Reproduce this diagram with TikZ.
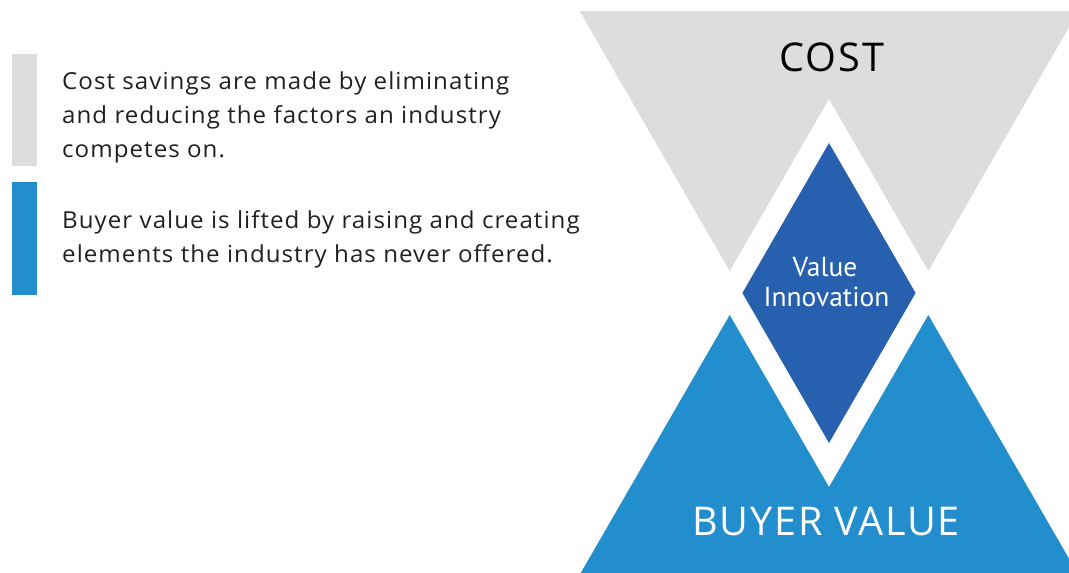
\documentclass[tikz,border=0pt]{standalone}
\usepackage{fontspec}
\setmainfont[LetterSpace=4.5,FakeStretch=1.03]{Open Sans}
\newfontfamily\labelfont{PT Sans}
\newfontfamily\bigfont[LetterSpace=4.5]{Open Sans}
\definecolor{costgray}{HTML}{DCDDDF}
\definecolor{valblue}{HTML}{238ECD}
\definecolor{innoblue}{HTML}{2760AE}
\definecolor{txtdark}{HTML}{231F20}
\begin{document}
\begin{tikzpicture}[x=1pt,y=-1pt,
  bodytext/.style={anchor=base west,inner sep=0pt,text=txtdark,font=\fontsize{23.4}{34}\selectfont},
  biglabel/.style={anchor=base,inner sep=0pt,font=\bigfont\fontsize{39.6}{40}\selectfont},
  smalllabel/.style={anchor=base,inner sep=0pt,text=white,font=\labelfont\fontsize{27.5}{30}\selectfont}]
\useasboundingbox (0,0) rectangle (1069,573);
\clip (0,0) rectangle (1069,573);
% legend bars
\fill[costgray] (12,54) rectangle (37,166);
\fill[valblue] (12,182) rectangle (37,295);
% legend text
\node[bodytext] (t1a) at (62,89) {Cost savings are made by eliminating};
\node[bodytext] (t1b) at (62,123) {and reducing the factors an industry};
\node[bodytext] (t1c) at (62,157.5) {competes on.};
\node[bodytext] (t2a) at (62,228) {Buyer value is lifted by raising and creating};
\node[bodytext] (t2b) at (62,262) {elements the industry has never offered.};
% cost shape (inverted triangle with notch)
\fill[costgray] (579.6,11) -- (1078.4,11) -- (928.3,271) -- (829,99) -- (729.7,271) -- cycle;
% buyer value shape
\fill[valblue] (580.7,573) -- (729.7,315) -- (829,487) -- (928.3,315) -- (1077.3,573) -- cycle;
% value innovation diamond
\fill[innoblue] (829,143) -- (915.6,293) -- (829,443) -- (742.4,293) -- cycle;
% labels
\node[biglabel,text=black] (cost) at (832,71.7) {COST};
\node[biglabel,text=white] (buyer) at (826,535) {BUYER VALUE};
\node[smalllabel] (vi1) at (825,276.7) {Value};
\node[smalllabel] (vi2) at (826.5,306.7) {Innovation};
\end{tikzpicture}
\end{document}
